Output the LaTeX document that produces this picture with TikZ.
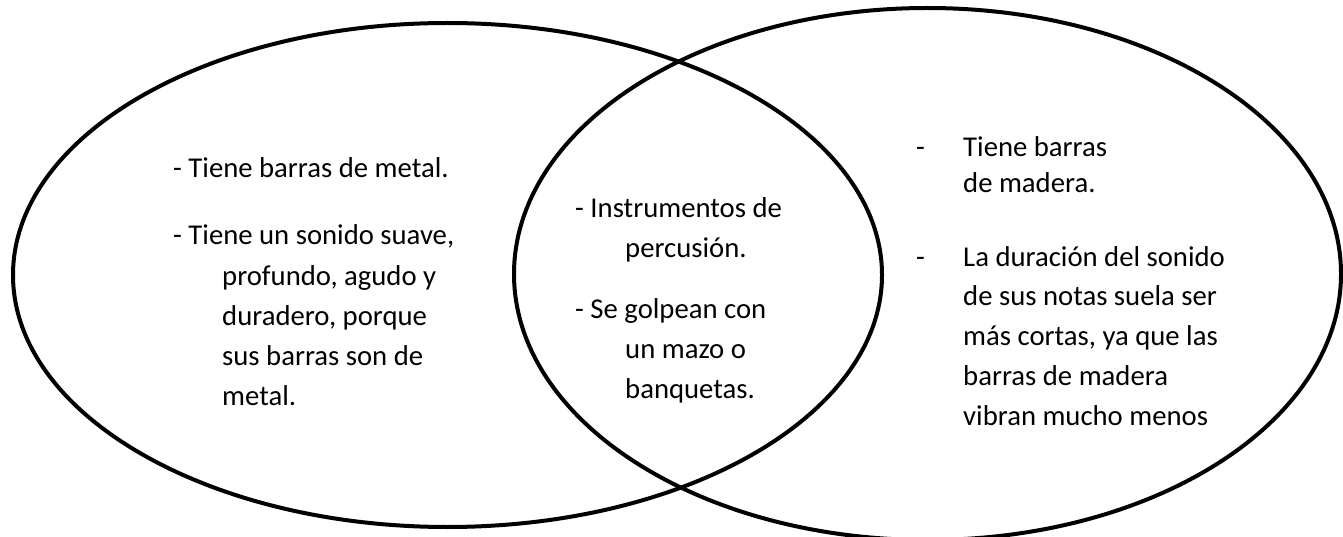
\documentclass[tikz,border=0pt]{standalone}
\usepackage{fontspec}
\setmainfont{Carlito}
\begin{document}
\begin{tikzpicture}[x=1pt,y=-1pt,
  ring/.style={line width=4pt, draw=black},
  txt/.style={anchor=base west, inner sep=0pt, font=\fontsize{28.7}{40}\selectfont}]
\useasboundingbox (0,0) rectangle (1343,537);
\fill[white] (0,0) rectangle (1343,537);
\begin{scope}
\clip (0,0) rectangle (1343,537);
\draw[ring] (447.5,275) ellipse [x radius=434.5, y radius=252];
\draw[ring] (927.5,274) ellipse [x radius=413.5, y radius=266];
\end{scope}
% left set
\node[txt] (l1) at (173,178) {- Tiene barras de metal.};
\node[txt] (l2) at (173,245) {- Tiene un sonido suave,};
\node[txt] (l3) at (222,285) {profundo, agudo y};
\node[txt] (l4) at (222,325) {duradero, porque};
\node[txt] (l5) at (222,365) {sus barras son de};
\node[txt] (l6) at (222,405) {metal.};
% middle
\node[txt] (m1) at (575,218) {- Instrumentos de};
\node[txt] (m2) at (625,258) {percusión.};
\node[txt] (m3) at (575,318) {- Se golpean con};
\node[txt] (m4) at (625,358) {un mazo o};
\node[txt] (m5) at (625,398) {banquetas.};
% right set
\node[txt] (rd1) at (916,157) {-};
\node[txt] (r1) at (963,157) {Tiene barras};
\node[txt] (r2) at (963,193) {de madera.};
\node[txt] (rd2) at (916,266) {-};
\node[txt] (r3) at (963,266) {La duración del sonido};
\node[txt] (r4) at (963,305) {de sus notas suela ser};
\node[txt] (r5) at (963,345) {más cortas, ya que las};
\node[txt] (r6) at (963,385) {barras de madera};
\node[txt] (r7) at (963,425) {vibran mucho menos};
\end{tikzpicture}
\end{document}
